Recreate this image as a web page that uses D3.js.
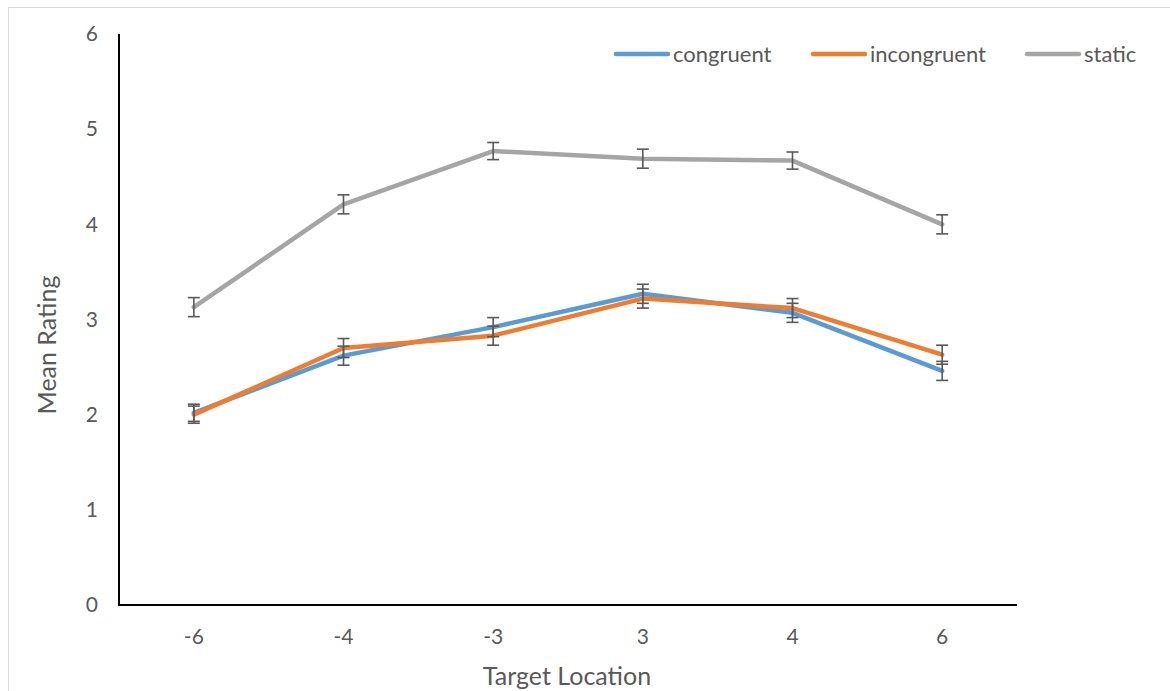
<!DOCTYPE html>
<html>
<head>
<meta charset="utf-8">
<script src="https://cdn.jsdelivr.net/npm/d3@7"></script>
<style>
  html, body { margin: 0; padding: 0; background: #fff; }
  svg { display: block; }
  text { font-family: Lato, "Open Sans", sans-serif; fill: #595959; }
</style>
</head>
<body>
<svg id="chart" width="1170" height="691"></svg>
<script>
// Target locations on the horizontal axis
const locations = ["-6", "-4", "-3", "3", "4", "6"];

// Mean ratings per condition
const congruent   = [2.02, 2.62, 2.92, 3.27, 3.07, 2.46];
const incongruent = [2.00, 2.70, 2.83, 3.22, 3.12, 2.63];
const staticMean  = [3.13, 4.21, 4.77, 4.69, 4.67, 4.00];

// Error bar half-widths (standard error)
const congruentErr   = [0.09, 0.10, 0.10, 0.10, 0.10, 0.10];
const incongruentErr = [0.09, 0.10, 0.10, 0.10, 0.10, 0.10];
const staticErr      = [0.10, 0.10, 0.09, 0.10, 0.09, 0.10];

const yTicks = [0, 1, 2, 3, 4, 5, 6];

const seriesNames  = ["congruent", "incongruent", "static"];
const seriesColors = ["#5B9BD5", "#ED7D31", "#A5A5A5"];

const series = [
  { name: seriesNames[0], color: seriesColors[0], values: congruent,   err: congruentErr },
  { name: seriesNames[1], color: seriesColors[1], values: incongruent, err: incongruentErr },
  { name: seriesNames[2], color: seriesColors[2], values: staticMean,  err: staticErr }
];

const svg = d3.select("#chart");

// Chart frame
svg.append("rect")
  .attr("x", 8.5).attr("y", 7.5)
  .attr("width", 1200).attr("height", 700)
  .attr("fill", "#fff")
  .attr("stroke", "#D9D9D9").attr("stroke-width", 1);

const plot = { left: 119, right: 1017, top: 34, bottom: 605 };

const x = d3.scaleBand()
  .domain(locations)
  .range([plot.left, plot.right]);

const y = d3.scaleLinear()
  .domain([0, 6])
  .range([plot.bottom, plot.top]);

const xc = d => x(d) + x.bandwidth() / 2;

// Y axis labels
const yAxis = d3.axisLeft(y).tickValues(yTicks).tickSize(0).tickPadding(21).tickFormat(d3.format("d"));
const gy = svg.append("g").attr("transform", `translate(${plot.left},0)`).call(yAxis);
gy.select(".domain").remove();
gy.selectAll("text").attr("font-size", 21).attr("fill", "#595959")
  .style("font-family", "Lato, 'Open Sans', sans-serif");

// X axis labels
const xAxis = d3.axisBottom(x).tickSize(0).tickPadding(24);
const gx = svg.append("g").attr("transform", `translate(0,${plot.bottom})`).call(xAxis);
gx.select(".domain").remove();
gx.selectAll("text").attr("font-size", 21).attr("fill", "#595959")
  .style("font-family", "Lato, 'Open Sans', sans-serif");

// Axis lines
svg.append("line")
  .attr("x1", plot.left).attr("x2", plot.left)
  .attr("y1", plot.top).attr("y2", plot.bottom)
  .attr("stroke", "#000").attr("stroke-width", 2);
svg.append("line")
  .attr("x1", plot.left - 1).attr("x2", plot.right)
  .attr("y1", plot.bottom).attr("y2", plot.bottom)
  .attr("stroke", "#000").attr("stroke-width", 2);

// Axis titles
svg.append("text")
  .attr("x", (plot.left + plot.right) / 2 - 1).attr("y", 685)
  .attr("text-anchor", "middle").attr("font-size", 25)
  .text("Target Location");
svg.append("text")
  .attr("transform", "translate(56,345) rotate(-90)")
  .attr("text-anchor", "middle").attr("font-size", 25)
  .text("Mean Rating");

// Series lines
const line = d3.line()
  .x((d, i) => xc(locations[i]))
  .y(d => y(d));

series.forEach(s => {
  svg.append("path")
    .datum(s.values)
    .attr("d", line)
    .attr("fill", "none")
    .attr("stroke", s.color)
    .attr("stroke-width", 4.5)
    .attr("stroke-linejoin", "round")
    .attr("stroke-linecap", "round");
});

// Error bars
const cap = 6;
series.forEach(s => {
  const g = svg.append("g").attr("stroke", "#595959").attr("stroke-width", 1.6);
  s.values.forEach((v, i) => {
    const cx = xc(locations[i]);
    const lo = y(v - s.err[i]), hi = y(v + s.err[i]);
    g.append("line").attr("x1", cx).attr("x2", cx).attr("y1", lo).attr("y2", hi);
    g.append("line").attr("x1", cx - cap).attr("x2", cx + cap).attr("y1", lo).attr("y2", lo);
    g.append("line").attr("x1", cx - cap).attr("x2", cx + cap).attr("y1", hi).attr("y2", hi);
  });
});

// Legend
const legendX = [614, 811, 1025];
const legend = svg.append("g");
series.forEach((s, i) => {
  const lx = legendX[i];
  legend.append("line")
    .attr("x1", lx + 2).attr("x2", lx + 54)
    .attr("y1", 54).attr("y2", 54)
    .attr("stroke", s.color).attr("stroke-width", 4.5)
    .attr("stroke-linecap", "round");
  legend.append("text")
    .attr("x", lx + 59).attr("y", 62)
    .attr("font-size", 22)
    .text(s.name);
});
</script>
</body>
</html>
